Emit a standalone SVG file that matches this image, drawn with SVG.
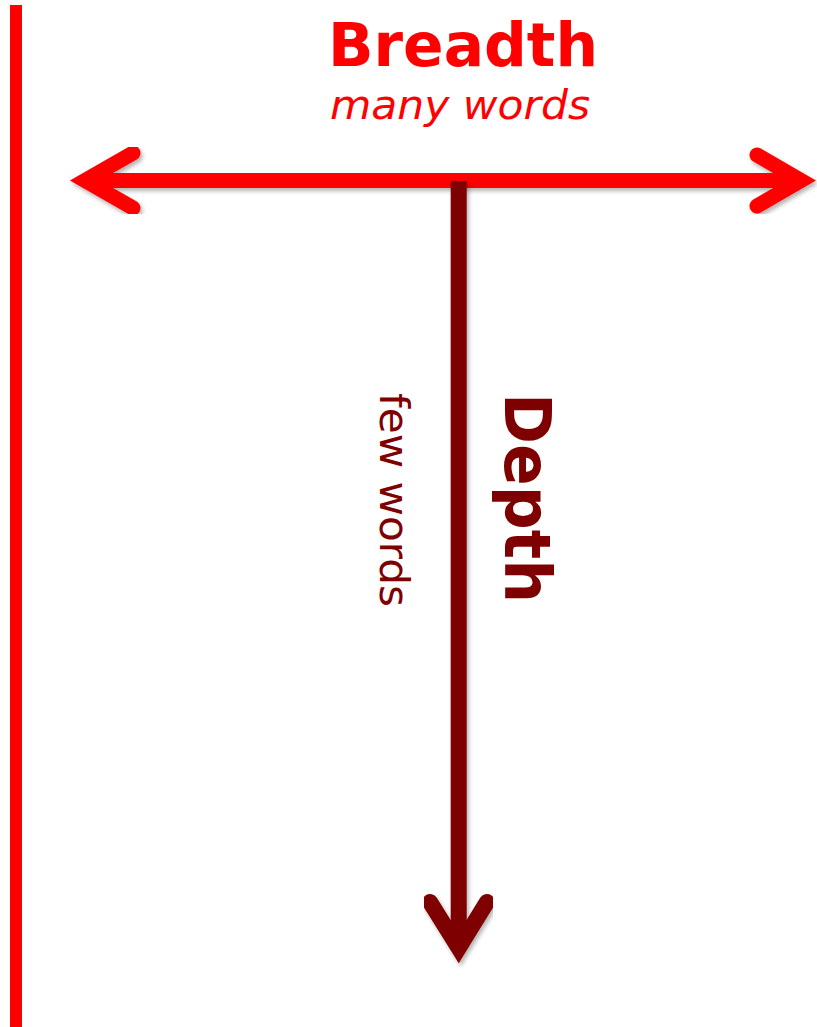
<svg xmlns="http://www.w3.org/2000/svg" width="817" height="1027" viewBox="0 0 817 1027">
  <style>
    .red { stroke: #FF0000; fill: none; }
    .dark { stroke: #7F0000; fill: none; }
    .head { stroke-linecap: round; stroke-linejoin: miter; stroke-miterlimit: 10; }
    .t { font-family: "DejaVu Sans", Verdana, sans-serif; }
  </style>
  <defs>
    <filter id="sh" x="-10%" y="-10%" width="120%" height="120%">
      <feDropShadow dx="2" dy="3" stdDeviation="2" flood-color="#000" flood-opacity="0.3"/>
    </filter>
  </defs>
  <rect x="0" y="0" width="817" height="1027" fill="#FFFFFF"/>

  <g id="left-bar">
    <rect x="10" y="5" width="12" height="1022" fill="#FF0000"/>
  </g>

  <g id="connectors">
    <g id="breadth-arrow" filter="url(#sh)">
      <line class="red" x1="85" y1="180.5" x2="801" y2="180.5" stroke-width="15"/>
      <polyline class="red head" points="133,153 85,180.5 133,208" stroke-width="15"/>
      <polyline class="red head" points="757,155 801,180.5 757,206" stroke-width="15"/>
    </g>
    <g id="depth-arrow" filter="url(#sh)">
      <line class="dark" x1="458.7" y1="181" x2="458.7" y2="948" stroke-width="16"/>
      <polyline class="dark head" points="430,902 458.7,948 487,902" stroke-width="16"/>
    </g>
  </g>

  <g id="breadth-label">
    <text class="t" x="463" y="66" font-size="61" font-weight="bold" fill="#FF0000" text-anchor="middle" textLength="270" lengthAdjust="spacingAndGlyphs">Breadth</text>
    <text class="t" x="460" y="119" font-size="40" font-style="italic" fill="#FF0000" text-anchor="middle" textLength="260" lengthAdjust="spacingAndGlyphs">many words</text>
  </g>

  <g id="depth-label">
    <text class="t" transform="translate(505,498) rotate(90)" font-size="64" font-weight="bold" fill="#7F0000" text-anchor="middle" textLength="210" lengthAdjust="spacingAndGlyphs">Depth</text>
    <text class="t" transform="translate(380,500) rotate(90)" font-size="41" fill="#7F0000" text-anchor="middle" textLength="214" lengthAdjust="spacingAndGlyphs">few words</text>
  </g>
</svg>
